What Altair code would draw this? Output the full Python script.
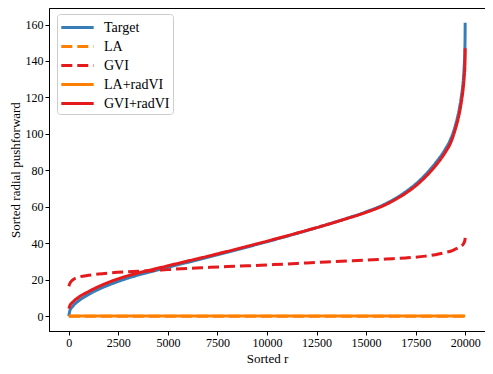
import altair as alt
import pandas as pd

r_idx = [0, 50, 200, 500, 1000, 1500, 2000, 3000, 4000, 5000, 6000, 7000, 8000,
         9000, 10000, 11000, 12000, 13000, 14000, 15000, 16000, 17000, 17500,
         18000, 18500, 19000, 19300, 19500, 19700, 19800, 19900, 19950, 19990, 20000]

target = [0.0, 3.0, 5.5, 8.5, 12.0, 14.8, 17.1, 21.0, 24.1, 26.9, 29.6, 32.3, 35.1,
          38.0, 40.9, 43.9, 47.0, 50.2, 53.6, 57.3, 61.8, 68.3, 72.5,
          77.7, 84.0, 91.7, 98.0, 104.5, 113.5, 120.0, 129.0, 137.0, 149.0, 161.0]

gvi_radvi = [4.2, 5.8, 7.8, 10.5, 13.6, 16.3, 18.6, 22.3, 25.1, 27.7, 30.3, 32.9, 35.6,
             38.4, 41.2, 44.1, 47.1, 50.2, 53.5, 57.0, 61.3, 67.5, 71.5,
             76.5, 82.5, 90.0, 96.0, 102.5, 111.0, 117.0, 125.0, 131.0, 139.0, 147.0]

gvi = [16.5, 18.0, 20.0, 21.5, 22.5, 23.2, 23.7, 24.4, 24.9, 25.6, 26.3, 26.8, 27.3,
       27.7, 28.2, 28.7, 29.3, 29.8, 30.3, 30.8, 31.4, 32.0, 32.4,
       33.0, 33.8, 35.0, 35.8, 36.8, 37.8, 38.5, 39.5, 40.5, 42.0, 43.0]

la = [0.0] * len(r_idx)
la_radvi = [0.2] * len(r_idx)

series_names = ["Target", "LA", "GVI", "LA+radVI", "GVI+radVI"]
series_values = [target, la, gvi, la_radvi, gvi_radvi]
series_colors = ["#377eb8", "#ff7f00", "#e41a1c", "#ff7f00", "#e41a1c"]
series_dash = [[1, 0], [11, 5], [11, 5], [1, 0], [1, 0]]

x_ticks = [0, 2500, 5000, 7500, 10000, 12500, 15000, 17500, 20000]
y_ticks = [0, 20, 40, 60, 80, 100, 120, 140, 160]

rows = []
for k, (name, vals) in enumerate(zip(series_names, series_values)):
    for x, y in zip(r_idx, vals):
        rows.append({"series": name, "r": x, "v": y, "k": k})
df = pd.DataFrame(rows)

FONT = "Liberation Serif"

legend_opts = dict(title=None, orient="none", legendX=8, legendY=6)

chart = alt.Chart(df).mark_line(strokeWidth=3, clip=True, interpolate="monotone").encode(
    x=alt.X("r:Q", scale=alt.Scale(domain=[-1000, 21000], nice=False, zero=False),
            axis=alt.Axis(title="Sorted r", values=x_ticks, format="d", grid=False)),
    y=alt.Y("v:Q", scale=alt.Scale(domain=[-8.05, 169.05], nice=False, zero=False),
            axis=alt.Axis(title="Sorted radial pushforward", values=y_ticks, format="d", grid=False)),
    color=alt.Color("series:N", scale=alt.Scale(domain=series_names, range=series_colors),
                    sort=series_names, legend=alt.Legend(**legend_opts)),
    strokeDash=alt.StrokeDash("series:N", scale=alt.Scale(domain=series_names, range=series_dash),
                              sort=series_names, legend=alt.Legend(**legend_opts)),
    order=alt.Order("r:Q"),
    detail="k:O",
).properties(
    width=436, height=323,
    autosize=alt.AutoSizeParams(type="none"),
    padding={"left": 41, "top": 0, "right": 0, "bottom": 35},
).configure_view(
    stroke="#000000", strokeWidth=1
).configure_axis(
    labelFont=FONT, titleFont=FONT, labelFontSize=12, titleFontSize=13,
    titleFontWeight="normal", labelColor="#000", titleColor="#000",
    domainColor="#000", tickColor="#000", tickSize=4, labelPadding=2,
).configure_axisY(titlePadding=3).configure_axisX(titlePadding=4).configure_legend(
    labelFont=FONT, labelFontSize=14, labelColor="#000",
    symbolType="M-1.8,0H1.8", symbolSize=324, symbolStrokeWidth=3, symbolOffset=7,
    strokeColor="#cccccc", fillColor="#ffffff", cornerRadius=3,
    padding=3, rowPadding=1, labelOffset=16,
)

chart.save("out.html", embed_options={"renderer": "svg", "actions": False})
